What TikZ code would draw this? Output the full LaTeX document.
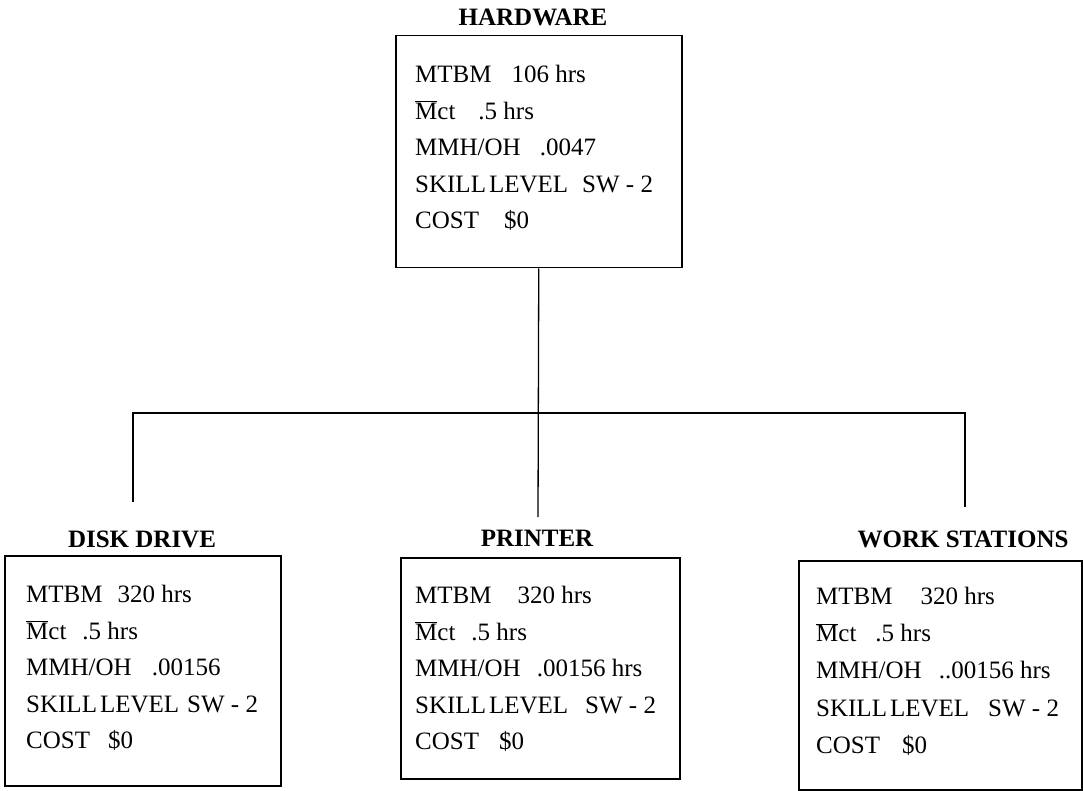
\documentclass[tikz,border=0pt]{standalone}
\usepackage{fontspec}
\setmainfont{Liberation Serif}
\newcommand\MbarX{$\overline{\mbox{M}}$}
\newcommand\gapX[1]{\hspace{#1pt}}
\begin{document}
\begin{tikzpicture}[x=1pt,y=-1pt,
 box/.style={draw,line width=1.5pt,anchor=north west,inner sep=0pt},
 txt/.style={anchor=north west,inner sep=0pt,align=left,font=\fontsize{25}{36.5}\selectfont},
 lbl/.style={anchor=base,inner sep=0pt,font=\fontsize{25}{27}\selectfont\bfseries},
 wire/.style={line width=1.3pt}]
\useasboundingbox (0,0) rectangle (1083,791);
% boxes
\node[box,minimum width=286pt,minimum height=232pt] (hw) at (395,35) {};
\node[box,minimum width=276pt,minimum height=230pt] (dd) at (4,555) {};
\node[box,minimum width=279pt,minimum height=221pt] (pr) at (400,557) {};
\node[box,minimum width=283pt,minimum height=229pt] (ws) at (798,560) {};
% labels
\node[lbl] (hwl) at (533,26) {HARDWARE};
\node[lbl] (ddl) at (142,547) {DISK DRIVE};
\node[lbl] (prl) at (537,546) {PRINTER};
\node[lbl] (wsl) at (963,547) {WORK STATIONS};
% texts
\node[txt] (hwt) at (415,65) {MTBM\gapX{20}106 hrs\\ \MbarX ct\gapX{23}.5 hrs\\ MMH/OH\gapX{19}.0047\\ SKILL\gapX{3}LEVEL\gapX{14}SW - 2\\ COST\gapX{25}\$0};
\node[txt] (ddt) at (26,585) {MTBM\gapX{15}320 hrs\\ \MbarX ct\gapX{16}.5 hrs\\ MMH/OH\gapX{20}.00156\\ SKILL\gapX{3}LEVEL\gapX{8}SW - 2\\ COST\gapX{18}\$0};
\node[txt] (prt) at (415,586) {MTBM\gapX{26}320 hrs\\ \MbarX ct\gapX{16}.5 hrs\\ MMH/OH\gapX{16}.00156 hrs\\ SKILL\gapX{3}LEVEL\gapX{17}SW - 2\\ COST\gapX{20}\$0};
\node[txt,font=\fontsize{25}{37.2}\selectfont] (wst) at (816,587) {MTBM\gapX{28}320 hrs\\ \MbarX ct\gapX{19}.5 hrs\\ MMH/OH\gapX{17}..00156 hrs\\ SKILL\gapX{3}LEVEL\gapX{19}SW - 2\\ COST\gapX{22}\$0};
% connectors
\coordinate (jn) at (538,413);
\coordinate (dde) at (133,502);
\coordinate (pre) at (538,517);
\coordinate (wse) at (965,507);
\draw[wire] (hw.south) -- (pre);
\draw[wire] (dde) -- (dde |- jn) -- (wse |- jn) -- (wse);
\end{tikzpicture}
\end{document}
